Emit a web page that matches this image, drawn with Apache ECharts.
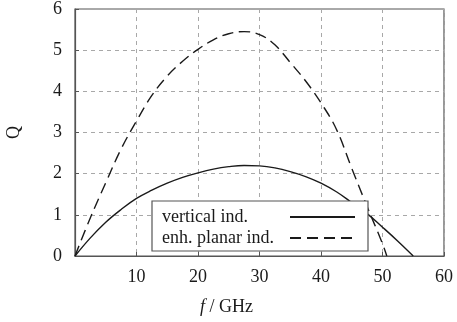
<!DOCTYPE html>
<html><head><meta charset="utf-8">
<script src="https://cdn.jsdelivr.net/npm/echarts@6/dist/echarts.min.js"></script>
<style>html,body{margin:0;padding:0;background:#fff}#chart{width:457px;height:322px}</style>
</head><body><div id="chart"></div>
<script>
// Quality factor Q versus frequency for the two inductor types
const verticalF = [0, 2.5, 5, 7.5, 10, 12.5, 15, 17.5, 20, 22.5, 25, 27.5, 30, 32.5, 35, 37.5, 40, 42.5, 45, 47.5, 50, 52.5, 55];
const verticalQ = [0, 0.44, 0.82, 1.13, 1.4, 1.6, 1.77, 1.91, 2.02, 2.11, 2.17, 2.2, 2.19, 2.14, 2.05, 1.93, 1.77, 1.56, 1.3, 1.03, 0.7, 0.36, 0];
const planarF = [0, 2.5, 5, 7.5, 10, 12.5, 15, 17.5, 20, 22.5, 25, 27.5, 30, 32.5, 35, 37.5, 40, 42.5, 45, 47.5, 50, 50.7];
const planarQ = [0, 0.93, 1.78, 2.6, 3.28, 3.9, 4.37, 4.73, 5.02, 5.25, 5.4, 5.45, 5.38, 5.13, 4.7, 4.25, 3.72, 3.08, 2.13, 1.2, 0.3, 0];
const fTicks = [10, 20, 30, 40, 50, 60];
const qTicks = [0, 1, 2, 3, 4, 5, 6];
const seriesNames = ['vertical ind.', 'enh. planar ind.'];

const serif = '"Liberation Serif", "DejaVu Serif", serif';
const ink = '#1a1a1a';
const gridLine = { show: true, lineStyle: { color: '#a8a8a8', type: [4, 4], width: 1 } };

const chart = echarts.init(document.getElementById('chart'), null, { renderer: 'canvas' });
chart.setOption({
  animation: false,
  backgroundColor: '#fff',
  grid: { left: 75, right: 13, top: 9, bottom: 66, containLabel: false, outerBoundsMode: 'none',
    show: true, borderColor: '#555', borderWidth: 1.2 },
  xAxis: {
    type: 'value', min: 0, max: 60, interval: 10,
    name: '{i|f} / GHz', nameLocation: 'middle', nameGap: 42,
    nameTextStyle: { fontFamily: serif, fontSize: 18, color: ink, padding: [0, 66, 0, 0],
      rich: { i: { fontFamily: serif, fontSize: 18, fontStyle: 'italic', color: ink } } },
    axisLine: { lineStyle: { color: '#555', width: 1.2 } },
    axisTick: { inside: true, length: 4, lineStyle: { color: '#555' } },
    axisLabel: { fontFamily: serif, fontSize: 18, color: ink, margin: 12,
      formatter: v => fTicks.includes(v) ? String(v) : '' },
    splitLine: gridLine
  },
  yAxis: {
    type: 'value', min: 0, max: 6, interval: 1,
    name: 'Q', nameLocation: 'middle', nameGap: 52, nameRotate: 90,
    nameTextStyle: { fontFamily: serif, fontSize: 18, color: ink },
    axisLine: { show: true, lineStyle: { color: '#555', width: 1.2 } },
    axisTick: { show: true, inside: true, length: 4, lineStyle: { color: '#555' } },
    axisLabel: { fontFamily: serif, fontSize: 18, color: ink, margin: 13,
      formatter: v => qTicks.includes(v) ? String(v) : '' },
    splitLine: gridLine
  },
  legend: {
    left: 152, top: 201, orient: 'vertical', align: 'right',
    padding: [6, 12, 3, 10], itemGap: 1, itemWidth: 65, itemHeight: 10,
    backgroundColor: '#fff', borderColor: '#555', borderWidth: 1.2, borderRadius: 0,
    itemStyle: { opacity: 0 },
    data: seriesNames,
    formatter: n => '{t|' + n + '}',
    textStyle: { fontFamily: serif, fontSize: 18, color: ink, lineHeight: 20,
      rich: { t: { width: 123, align: 'left', fontFamily: serif, fontSize: 18, color: ink, lineHeight: 20 } } }
  },
  series: [
    {
      name: seriesNames[0], type: 'line', smooth: 0.4, symbol: 'none',
      lineStyle: { color: ink, width: 1.4 }, itemStyle: { color: ink },
      data: verticalF.map((f, i) => [f, verticalQ[i]])
    },
    {
      name: seriesNames[1], type: 'line', smooth: 0.4, symbol: 'none',
      lineStyle: { color: ink, width: 1.4, type: [11, 6] }, itemStyle: { color: ink },
      data: planarF.map((f, i) => [f, planarQ[i]])
    }
  ]
});
</script></body></html>
